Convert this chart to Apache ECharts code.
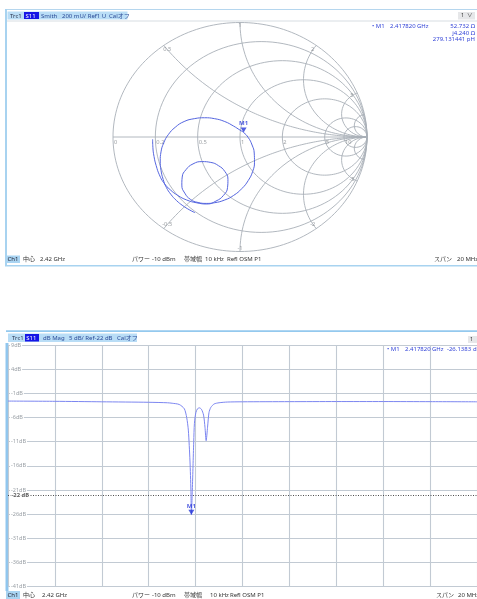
<!DOCTYPE html>
<html><head><meta charset="utf-8">
<script src="https://cdn.jsdelivr.net/npm/echarts@6/dist/echarts.min.js"></script>
<style>html,body{margin:0;padding:0;background:#fff;}#c{width:477px;height:599px;}</style>
</head><body><div id="c"></div>
<script>
// ---------- Smith chart trace (reflection coefficient) ----------
const smithRe = [-0.354,-0.40,-0.45,-0.50,-0.545,-0.58,-0.605,-0.622,-0.628,-0.622,-0.60,-0.565,-0.51,-0.44,-0.36,-0.28,-0.20,-0.12,-0.05,0.0,0.028,0.065,0.095,0.112,0.114,0.10,0.065,0.015,-0.05,-0.12,-0.20,-0.265,
  -0.33,-0.39,-0.435,-0.458,-0.455,-0.425,-0.37,-0.30,-0.23,-0.17,-0.12,-0.095,-0.098,-0.13,-0.19,-0.26,
  -0.34,-0.42,-0.49,-0.55,-0.60,-0.635,-0.66,-0.677,-0.686,-0.688];
const smithIm = [-0.661,-0.635,-0.60,-0.555,-0.50,-0.44,-0.37,-0.29,-0.21,-0.13,-0.05,0.02,0.085,0.135,0.16,0.168,0.16,0.135,0.095,0.06,0.04,-0.005,-0.07,-0.14,-0.22,-0.30,-0.38,-0.45,-0.51,-0.55,-0.574,-0.58,
  -0.572,-0.545,-0.49,-0.42,-0.35,-0.285,-0.235,-0.215,-0.222,-0.25,-0.30,-0.37,-0.44,-0.51,-0.56,-0.585,
  -0.575,-0.55,-0.51,-0.46,-0.40,-0.33,-0.25,-0.17,-0.09,-0.02];
// ---------- dB Mag trace ----------
const freqMHz = [2410,2412,2414,2416,2416.8,2417.0,2417.3,2417.52,2417.62,2417.69,2417.76,2417.80,2417.82,2417.86,2417.89,2417.92,2417.95,2418.01,2418.08,2418.16,2418.25,2418.34,2418.40,2418.45,2418.51,2418.57,2418.65,2418.79,2419.0,2419.35,2420,2422,2424,2426,2428,2430];
const s11dB   = [-2.6,-2.65,-2.75,-2.85,-2.95,-3.05,-3.3,-4.2,-6.0,-8.6,-15,-21,-26.14,-21,-16,-11,-7.2,-5.0,-4.2,-4.0,-4.3,-5.5,-8.0,-10.8,-8.0,-5.0,-3.9,-3.2,-2.95,-2.8,-2.75,-2.72,-2.7,-2.7,-2.72,-2.75];
// ---------- grids / ticks ----------
const rCircles = [0.2,0.5,1,2,5,10];
const xArcs = [0.5,1,2,5,10];
const rLabelVals = [0,0.2,0.5,1,2,5,10];
const xLabelVals = [0.5,1,2,5,-0.5,-1,-2,-5];
const freqStart = 2410, freqStop = 2430, freqStep = 2;
const dbTop = 9, dbBottom = -41, dbStep = 5, refLevel = -22;
const marker = {name:'M1', freq:'2.417820', freqMHz:2417.82, dB:-26.1383, R:52.732, X:4.240, L:'279.131441 pH'};
const Z0 = 50;

const FONT = '"Noto Sans","Noto Sans CJK JP",sans-serif';
const GRID_C = '#a9b0b8';
const TRACE_C = '#5566e0';
const MK_C = '#2636d8';

const SHIFT = -(dbBottom % dbStep); // 1 : keeps tick values multiples of the step
const series = [];
function circlePts(cx, cy, R, t0, t1, n){
  const pts=[];for(let i=0;i<=n;i++){const t=(t0+(t1-t0)*i/n)*Math.PI/180;pts.push([cx+R*Math.cos(t),cy+R*Math.sin(t)]);}return pts;}
const gridLine = (data)=>({type:'line',xAxisIndex:0,yAxisIndex:0,data,showSymbol:false,silent:true,animation:false,
  lineStyle:{color:GRID_C,width:0.9},z:1});
series.push(gridLine(circlePts(0,0,1,0,360,180)));
rCircles.forEach(r=>series.push(gridLine(circlePts(r/(1+r),0,1/(1+r),0,360,120))));
series.push(gridLine([[-1,0],[1,0]]));
xArcs.forEach(x=>{
  [1,-1].forEach(s=>{
    const cy=1/(s*x), R=1/x;
    const px=(x*x-1)/(x*x+1), py=s*2*x/(x*x+1);
    let tP=Math.atan2(py-cy,px-1)*180/Math.PI;
    if(s>0){ if(tP>-90) tP-=360; series.push(gridLine(circlePts(1,cy,R,-90,tP,100))); }
    else { if(tP<90) tP+=360; series.push(gridLine(circlePts(1,cy,R,90,tP,100))); }
  });
});
// Smith labels
const smLabData=[];
rLabelVals.forEach(r=>smLabData.push({value:[(r-1)/(r+1),0],label:{formatter:String(r),position:[1.5,3],align:'left',verticalAlign:'top'}}));
xLabelVals.forEach(x=>{const a=Math.abs(x),k=(a===1?0.972:0.955);smLabData.push({value:[k*(a*a-1)/(a*a+1),k*2*x/(a*a+1)],label:{formatter:String(x),position:'inside'}});});
series.push({type:'scatter',xAxisIndex:0,yAxisIndex:0,data:smLabData,symbolSize:1,itemStyle:{color:'rgba(0,0,0,0)'},silent:true,animation:false,
  label:{show:true,color:'#84898f',fontSize:5.8,fontFamily:FONT},z:3});
// Smith trace
series.push({type:'line',xAxisIndex:0,yAxisIndex:0,data:smithRe.map((u,i)=>[u,smithIm[i]]),showSymbol:false,smooth:0.5,animation:false,
  lineStyle:{color:TRACE_C,width:1},z:5});
// Smith marker from impedance
(function(){
  const zr=marker.R/Z0, zi=marker.X/Z0;
  const nr=zr-1, ni=zi, dr=zr+1, di=zi, d2=dr*dr+di*di;
  const gr=(nr*dr+ni*di)/d2, gi=(ni*dr-nr*di)/d2;
  series.push({type:'scatter',xAxisIndex:0,yAxisIndex:0,data:[[gr,gi]],symbol:'triangle',symbolRotate:180,symbolSize:[6,5],symbolOffset:[0,-2.5],
    itemStyle:{color:MK_C},animation:false,z:8,
    label:{show:true,formatter:marker.name,position:'top',distance:1,color:MK_C,fontSize:6,fontWeight:'bold',fontFamily:FONT}});
})();
// dB trace
series.push({type:'line',xAxisIndex:1,yAxisIndex:1,data:freqMHz.map((f,i)=>[f,s11dB[i]+SHIFT]),showSymbol:false,smooth:0.25,animation:false,
  lineStyle:{color:'#7c86f0',width:1},z:5,
  markLine:{silent:true,symbol:'none',animation:false,label:{show:false},lineStyle:{color:'#3a3a3a',type:[1,1.5],width:0.9},data:[{yAxis:refLevel+SHIFT}]}});
// ref label
series.push({type:'scatter',xAxisIndex:1,yAxisIndex:1,data:[[freqStart,refLevel+SHIFT]],symbolSize:1,itemStyle:{color:'rgba(0,0,0,0)'},animation:false,z:9,
  label:{show:true,formatter:refLevel+' dB',position:'right',distance:2,color:'#333',fontSize:5.8,fontWeight:'bold',fontFamily:FONT,backgroundColor:'#fff',padding:[0,1]}});
// dB marker
series.push({type:'scatter',xAxisIndex:1,yAxisIndex:1,data:[[marker.freqMHz,marker.dB+SHIFT]],symbol:'triangle',symbolRotate:180,symbolSize:[6,5],symbolOffset:[0,-2.5],
  itemStyle:{color:MK_C},animation:false,z:8,
  label:{show:true,formatter:marker.name,position:'top',distance:1,color:MK_C,fontSize:6,fontWeight:'bold',fontFamily:FONT}});

// ---------- graphic chrome ----------
const G=[];
const R=(x,y,w,h,fill)=>G.push({type:'rect',shape:{x,y,width:w,height:h},style:{fill},silent:true,z:0});
const L=(x1,y1,x2,y2,stroke,w)=>G.push({type:'line',shape:{x1,y1,x2,y2},style:{stroke,lineWidth:w||1},silent:true,z:0});
const T=(text,x,y,o)=>G.push({type:'text',x,y,silent:true,z:100,style:Object.assign({text,fill:'#26324f',fontSize:6,fontFamily:FONT,verticalAlign:'middle',align:'left'},o||{})});
const BLUE_FRAME='#a8d3f0', TAB='#b9ddf6', S11BOX='#1515e6', TXT='#2a4a96', MKT='#3546d8';
// top panel
L(6,9.5,477,9.5,'#b5d6ee',1);
R(5,9,2,257,BLUE_FRAME);
R(7.5,11.5,120,8,TAB);
R(24,12,15,7,S11BOX);
T('Trc1',10,15.8,{fill:'#2c3550'});
T('S11',25.5,15.8,{fill:'#fff'});
T('Smith',41,15.8,{fill:TXT});
T('200 mU/ Ref1 U',62,15.8,{fill:TXT});
T('Calオフ',109,15.8,{fill:TXT});
L(7,21,477,21,'#cdd4da',0.8);
R(458,12,17,7.5,'#e6e7e9');
T('1',461,15.8,{fill:'#333',fontSize:5.5});
T('∨',467,15.8,{fill:'#333',fontSize:5.5});
T('• '+marker.name,372,26,{fill:MKT});
T(marker.freq,390,26,{fill:MKT});
T('GHz',417,26,{fill:MKT});
T(marker.R.toFixed(3)+' Ω',475,26,{fill:MKT,align:'right'});
T('j'+marker.X.toFixed(3)+' Ω',475,32.8,{fill:MKT,align:'right'});
T(marker.L,475,39.6,{fill:MKT,align:'right'});
// top status
R(6,255.5,14,7.5,'#a9d4f2');
T('Ch1',7.5,259.3,{fill:'#223'});
T('中心',23,259.3,{fill:'#333'});
T('2.42 GHz',40,259.3,{fill:'#333'});
T('パワー',132,259.3,{fill:'#333'});
T('-10 dBm',152,259.3,{fill:'#333'});
T('帯域幅',184,259.3,{fill:'#333'});
T('10 kHz',205,259.3,{fill:'#333'});
T('Refl OSM P1',227,259.3,{fill:'#333'});
T('スパン',434,259.3,{fill:'#333'});
T('20 MHz',457,259.3,{fill:'#333'});
R(5,265,472,1.6,BLUE_FRAME);
// bottom panel
R(6,330.3,471,1.8,'#94c9ee');
R(8,333.5,129,8.5,TAB);
R(25,334,14,7.5,S11BOX);
T('Trc1',12,338.3,{fill:'#2c3550'});
T('S11',26.3,338.3,{fill:'#fff'});
T('dB Mag',43,338.3,{fill:TXT});
T('5 dB/ Ref-22 dB',69,338.3,{fill:TXT});
T('Calオフ',117,338.3,{fill:TXT});
R(468,336,12,7,'#e6e7e9');
T('1',470,339.5,{fill:'#333',fontSize:5.5});
T('• '+marker.name,387,349,{fill:MKT});
T(marker.freq,405,349,{fill:MKT});
T('GHz',432,349,{fill:MKT});
T(marker.dB.toFixed(4),447,349,{fill:MKT});
T('dB',473,349,{fill:MKT});
R(5.5,343,3,248,'#90c6ee');
R(6,591,14,8,'#a9d4f2');
T('Ch1',7.5,595,{fill:'#223'});
T('中心',23,595,{fill:'#333'});
T('2.42 GHz',42,595,{fill:'#333'});
T('パワー',132,595,{fill:'#333'});
T('-10 dBm',152,595,{fill:'#333'});
T('帯域幅',184,595,{fill:'#333'});
T('10 kHz',210,595,{fill:'#333'});
T('Refl OSM P1',230,595,{fill:'#333'});
T('スパン',436,595,{fill:'#333'});
T('20 MHz',458,595,{fill:'#333'});

const chart = echarts.init(document.getElementById('c'), null, {renderer:'canvas',width:477,height:599});
chart.setOption({
  backgroundColor:'#fff',
  animation:false,
  grid:[
    {left:113,top:22.5,width:254,height:229},
    {left:8,top:345,width:475,height:241.7}
  ],
  xAxis:[
    {gridIndex:0,type:'value',min:-1,max:1,show:false},
    {gridIndex:1,type:'value',min:freqStart,max:freqStop,interval:freqStep,
     axisLine:{show:false},axisTick:{show:false},axisLabel:{show:false},
     splitLine:{show:true,lineStyle:{color:'#c2cad3',width:1.1}}}
  ],
  yAxis:[
    {gridIndex:0,type:'value',min:-1,max:1,show:false},
    {gridIndex:1,type:'value',min:dbBottom+SHIFT,max:dbTop+SHIFT,interval:dbStep,
     axisLine:{show:false},axisTick:{show:false},
     axisLabel:{inside:true,margin:2,color:'#9aa0a6',fontSize:5.5,fontFamily:FONT,backgroundColor:'#fff',padding:[0,1],
       formatter:v=>(v-SHIFT)+'dB'},
     splitLine:{show:true,lineStyle:{color:'#c2cad3',width:1.1}}}
  ],
  graphic:G,
  series
});
</script></body></html>
